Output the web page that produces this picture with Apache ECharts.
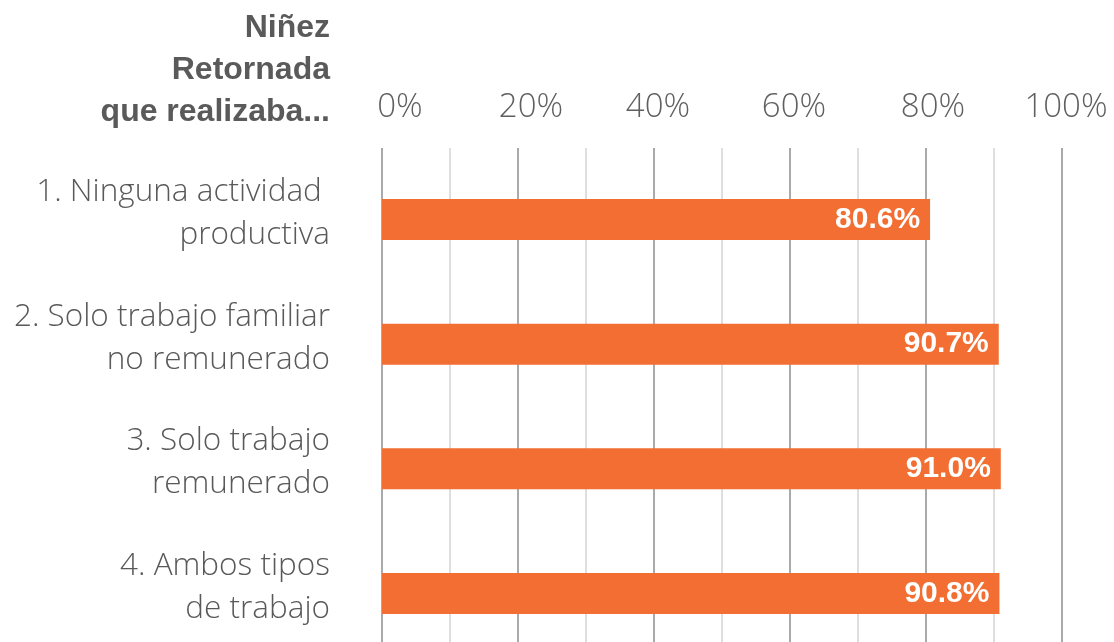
<!DOCTYPE html>
<html><head><meta charset="utf-8">
<script src="https://cdn.jsdelivr.net/npm/echarts@6/dist/echarts.min.js"></script>
<style>html,body{margin:0;padding:0;background:#fff}#c{width:1114px;height:642px}</style>
</head><body><div id="c"></div>
<script>
const categories = ['1. Ninguna actividad \nproductiva', '2. Solo trabajo familiar\nno remunerado', '3. Solo trabajo\nremunerado', '4. Ambos tipos\nde trabajo'];
const values = [80.6, 90.7, 91.0, 90.8];
const titleLines = ['Niñez', 'Retornada', 'que realizaba...'];
const xTicks = [0, 20, 40, 60, 80, 100];

const chart = echarts.init(document.getElementById('c'));
const LEFT = 382, RIGHT = 52;
const tickStyle = { color: '#5f5f5f', fontSize: 33, fontFamily: '"Open Sans", Roboto, sans-serif', fontWeight: 300 };
chart.setOption({
  animation: false,
  graphic: [{
    type: 'text', x: 330, y: 7,
    style: { text: titleLines.join('\n'), textAlign: 'right', font: 'bold 32px "Liberation Sans", Arial, sans-serif', lineHeight: 42, fill: '#5a5a5a' }
  }],
  grid: [
    { left: LEFT, right: RIGHT, top: 148, bottom: 0, outerBoundsMode: 'none' },
    { left: LEFT, right: RIGHT, top: 219.5, height: 374, outerBoundsMode: 'none' },
    { left: LEFT, right: RIGHT, top: 213.5, height: 374, outerBoundsMode: 'none' }
  ],
  xAxis: [
    { gridIndex: 0, type: 'value', position: 'top', min: 0, max: 100, interval: 20,
      axisLine: { show: false }, axisTick: { show: false },
      axisLabel: Object.assign({
        formatter: v => xTicks.includes(v) ? '{' + (v === 0 ? 'a' : v === 20 ? 'b' : v === 80 ? 'c' : 'd') + '|' + v + '%}' : '',
        margin: 24,
        rich: {
          a: Object.assign({ padding: [0, 0, 0, 36] }, tickStyle),
          b: Object.assign({ padding: [0, 0, 0, 26] }, tickStyle),
          c: Object.assign({ padding: [0, 0, 0, 14] }, tickStyle),
          d: Object.assign({ padding: [0, 0, 0, 8] }, tickStyle)
        }
      }, tickStyle),
      splitLine: { show: true, lineStyle: { color: '#a7abab', width: 2 } },
      minorTick: { show: false, splitNumber: 2 },
      minorSplitLine: { show: true, lineStyle: { color: '#dedede', width: 2 } }
    },
    { gridIndex: 1, type: 'value', min: 0, max: 100, show: false },
    { gridIndex: 2, type: 'value', min: 0, max: 100, show: false }
  ],
  yAxis: [
    { gridIndex: 0, type: 'category', data: [], show: false },
    { gridIndex: 1, type: 'category', data: categories, inverse: true, boundaryGap: false,
      axisLine: { show: false }, axisTick: { show: false }, axisLabel: { show: false } },
    { gridIndex: 2, type: 'category', data: categories, inverse: true, boundaryGap: false,
      axisLine: { show: false }, axisTick: { show: false },
      axisLabel: { color: '#595959', fontSize: 31.5, fontFamily: '"Open Sans", Roboto, sans-serif', fontWeight: 300, lineHeight: 43, margin: 52, align: 'right' }
    }
  ],
  series: [{
    type: 'bar', xAxisIndex: 1, yAxisIndex: 1, data: values, barWidth: 41,
    itemStyle: { color: '#f26e32' },
    label: { show: true, position: 'insideRight', distance: 10, formatter: p => p.value.toFixed(1) + '%',
      color: '#fff', fontSize: 30, fontWeight: 'bold', fontFamily: '"Liberation Sans", Arial, sans-serif' }
  }]
});
</script></body></html>
